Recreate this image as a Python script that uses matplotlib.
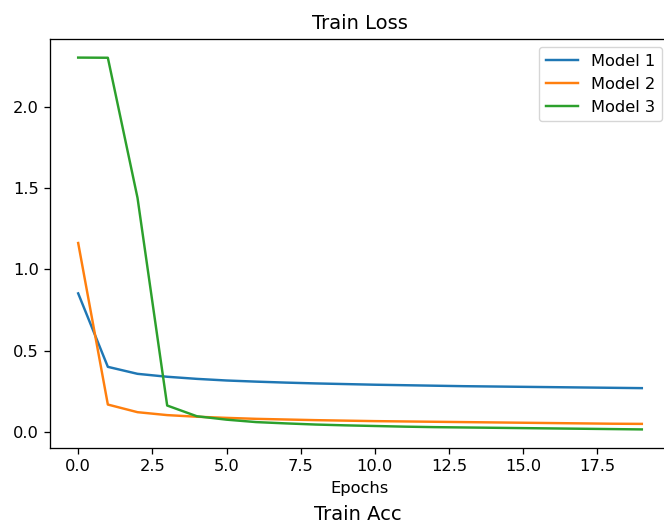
import matplotlib.pyplot as plt

epochs = list(range(20))

model1_loss = [0.852, 0.400, 0.357, 0.339, 0.326, 0.316, 0.309, 0.303, 0.298, 0.294,
               0.290, 0.287, 0.284, 0.281, 0.279, 0.277, 0.275, 0.273, 0.271, 0.269]
model2_loss = [1.162, 0.168, 0.121, 0.103, 0.093, 0.086, 0.080, 0.076, 0.072, 0.069,
               0.066, 0.064, 0.062, 0.060, 0.058, 0.056, 0.054, 0.052, 0.050, 0.049]
model3_loss = [2.303, 2.302, 1.440, 0.162, 0.096, 0.075, 0.060, 0.052, 0.045, 0.040,
               0.036, 0.032, 0.029, 0.027, 0.025, 0.023, 0.021, 0.019, 0.017, 0.015]

labels = ["Model 1", "Model 2", "Model 3"]

# everything drawn about 1.17x the matplotlib defaults
s = 1.17
plt.rcParams.update({
    "font.size": 10 * s,
    "lines.linewidth": 1.5 * s,
    "axes.linewidth": 0.8 * s,
    "xtick.major.size": 3.5 * s,
    "ytick.major.size": 3.5 * s,
    "xtick.major.width": 0.8 * s,
    "ytick.major.width": 0.8 * s,
    "xtick.major.pad": 3.5 * s,
    "ytick.major.pad": 3.5 * s,
    "axes.titlepad": 6 * s,
    "axes.labelpad": 4 * s,
    "axes.titlesize": 12 * s,
})

W, H = 664, 527
fig = plt.figure(figsize=(W / 100, H / 100), dpi=100)

# loss panel, right edge runs past the canvas
ax = fig.add_axes([50 / W, 79 / H, 620 / W, 409 / H])
for series, name in zip([model1_loss, model2_loss, model3_loss], labels):
    ax.plot(epochs, series, label=name)

ax.set_title("Train Loss")
ax.set_xlabel("Epochs")
ax.legend(loc="upper right")

# title of the accuracy panel below
fig.text(358 / W, 13 / H, "Train Acc", ha="center", va="center", fontsize=12 * s)

fig.savefig("out.png", dpi=100)
